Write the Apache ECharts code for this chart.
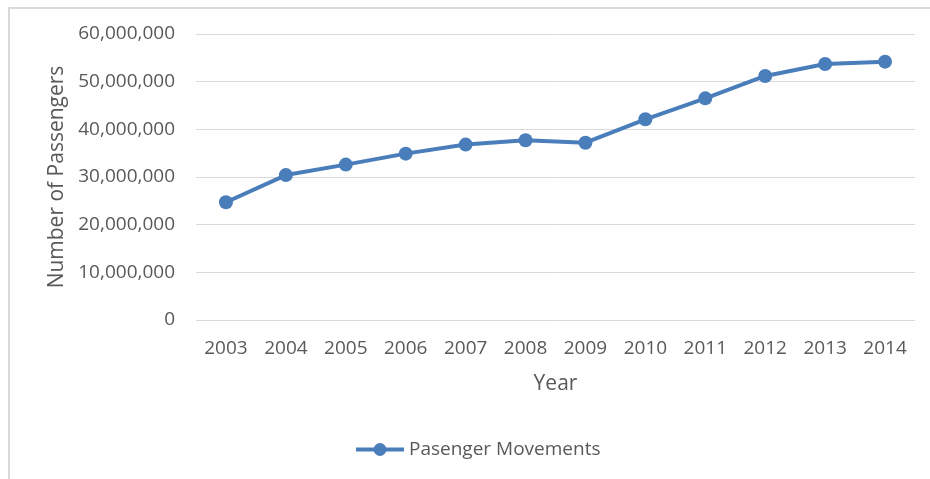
<!DOCTYPE html>
<html>
<head>
<meta charset="utf-8">
<script src="https://cdn.jsdelivr.net/npm/echarts@6/dist/echarts.min.js"></script>
<style>
  html, body { margin: 0; padding: 0; background: #ffffff; }
  #frame { position: absolute; left: 8px; top: 7px; width: 940px; height: 490px; border: 2px solid #d9d9d9; box-sizing: border-box; }
  #chart { position: absolute; left: 0; top: 0; width: 930px; height: 479px; }
</style>
</head>
<body>
<div id="frame"></div>
<div id="chart"></div>
<script>
// Annual passenger movements
const years = ['2003', '2004', '2005', '2006', '2007', '2008', '2009', '2010', '2011', '2012', '2013', '2014'];
const passengers = [24700000, 30400000, 32600000, 34900000, 36800000, 37700000, 37200000, 42100000, 46500000, 51200000, 53700000, 54200000];
const seriesName = 'Pasenger Movements';
const yTitle = 'Number of Passengers';
const xTitle = 'Year';

const textColor = '#595959';
const lineColor = '#4a7ebb';
const font = 'Open Sans';

const chart = echarts.init(document.getElementById('chart'), null, { renderer: 'canvas' });
chart.setOption({
  animation: false,
  backgroundColor: 'transparent',
  grid: { left: 196, right: 15, top: 34, bottom: 159, containLabel: false },
  xAxis: {
    type: 'category',
    data: years,
    boundaryGap: true,
    axisLine: { show: false },
    axisTick: { show: false },
    axisLabel: { color: textColor, fontFamily: font, fontSize: 19, margin: 19 },
    name: xTitle,
    nameLocation: 'middle',
    nameGap: 54,
    nameTextStyle: { color: textColor, fontFamily: font, fontSize: 21 }
  },
  yAxis: {
    type: 'value',
    min: 0,
    max: 60000000,
    interval: 10000000,
    axisLine: { show: false },
    axisTick: { show: false },
    splitLine: { lineStyle: { color: '#d9d9d9', width: 1 } },
    axisLabel: {
      color: textColor, fontFamily: font, fontSize: 19, margin: 21,
      formatter: v => v.toLocaleString('en-US')
    },
    name: yTitle,
    nameLocation: 'middle',
    nameGap: 128,
    nameRotate: 90,
    nameTextStyle: { color: textColor, fontFamily: font, fontSize: 21 }
  },
  legend: {
    left: 349,
    top: 435,
    itemWidth: 48,
    itemHeight: 16,
    itemGap: 4,
    lineStyle: { width: 4 },
    textStyle: { color: textColor, fontFamily: font, fontSize: 19 },
    data: [seriesName]
  },
  series: [{
    name: seriesName,
    type: 'line',
    data: passengers,
    symbol: 'circle',
    symbolSize: 14,
    itemStyle: { color: lineColor },
    lineStyle: { color: lineColor, width: 4 }
  }]
});
</script>
</body>
</html>
